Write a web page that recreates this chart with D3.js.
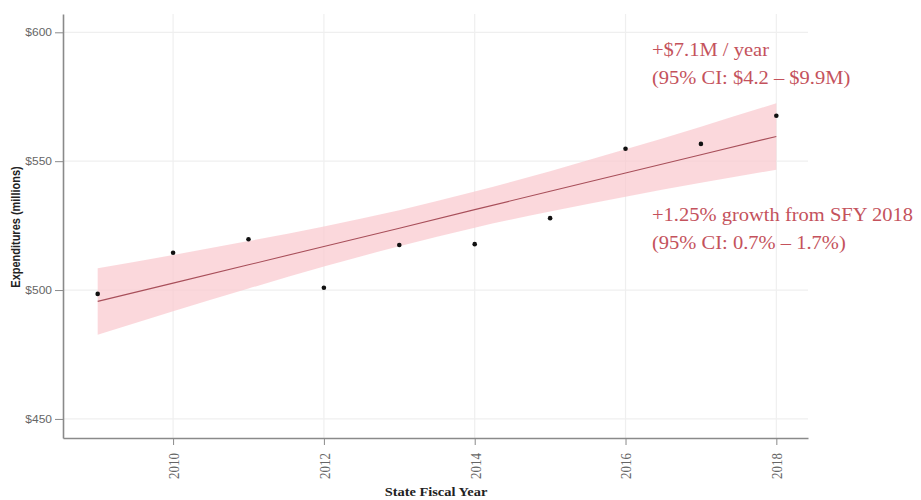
<!DOCTYPE html>
<html>
<head>
<meta charset="utf-8">
<script src="https://cdn.jsdelivr.net/npm/d3@7"></script>
<style>
    body { margin: 0; background: white; }
    svg { display: block; }
</style>
</head>
<body>
<div id="chart"></div>
<script>
// data
const years = [2009, 2010, 2011, 2012, 2013, 2014, 2015, 2016, 2017, 2018];
const spending = [498.5, 514.5, 519.7, 500.9, 517.5, 517.8, 527.9, 554.8, 556.7, 567.6];
const fitLine = [495.6, 502.7, 509.8, 516.9, 524.0, 531.2, 538.3, 545.4, 552.5, 559.6];
const bandLow = [482.7, 491.8, 500.6, 509.1, 517.0, 524.2, 530.5, 536.2, 541.6, 546.7];
const bandHigh = [508.5, 513.6, 519.0, 524.7, 531.0, 538.2, 546.1, 554.6, 563.4, 572.5];
const xTicks = [2010, 2012, 2014, 2016, 2018];
const yTicks = [450, 500, 550, 600];
const noteTop = ["+$7.1M / year", "(95% CI: $4.2 \u2013 $9.9M)"];
const noteBottom = ["+1.25% growth from SFY 2018", "(95% CI: 0.7% \u2013 1.7%)"];

const w = 921, h = 500;
const plotLeft = 63, plotRight = 808, plotTop = 14, plotBottom = 438;
const stretch = 1.2; // the original picture is a bit wider than tall
const red = "#c4525c";
const serif = "'Liberation Serif', 'Times New Roman', serif";
const sans = "'Liberation Sans', Arial, sans-serif";

const svg = d3.select("#chart").append("svg")
    .attr("width", w)
    .attr("height", h);

const xScale = d3.scaleLinear().domain([2008.54, 2018.42]).range([plotLeft, plotRight]);
const yScale = d3.scaleLinear().domain([442.6, 607.1]).range([plotBottom, plotTop]);

// grid
svg.append("g").selectAll("line").data(yTicks).enter().append("line")
    .attr("x1", plotLeft).attr("x2", plotRight)
    .attr("y1", d => yScale(d)).attr("y2", d => yScale(d))
    .attr("stroke", "#efefef").attr("stroke-width", 1.2);
svg.append("g").selectAll("line").data(xTicks).enter().append("line")
    .attr("y1", plotTop).attr("y2", plotBottom)
    .attr("x1", d => xScale(d)).attr("x2", d => xScale(d))
    .attr("stroke", "#efefef").attr("stroke-width", 1.2);

// confidence band
const rows = years.map((y, i) => ({year: y, v: spending[i], fit: fitLine[i], lo: bandLow[i], hi: bandHigh[i]}));

svg.append("path")
    .datum(rows)
    .attr("fill", "#f9c8cd")
    .attr("fill-opacity", 0.7)
    .attr("d", d3.area()
        .x(d => xScale(d.year))
        .y0(d => yScale(d.lo))
        .y1(d => yScale(d.hi))
        .curve(d3.curveMonotoneX));

// fitted line
svg.append("path")
    .datum(rows)
    .attr("fill", "none")
    .attr("stroke", "#a84f5a")
    .attr("stroke-width", 1.1)
    .attr("d", d3.line().x(d => xScale(d.year)).y(d => yScale(d.fit)));

// points
svg.append("g").selectAll("circle").data(rows).enter().append("circle")
    .attr("cx", d => xScale(d.year))
    .attr("cy", d => yScale(d.v))
    .attr("r", 2.3)
    .attr("fill", "#111");

// axes
const yAxis = svg.append("g")
    .attr("transform", `translate(${plotLeft},0)`)
    .call(d3.axisLeft(yScale).tickValues(yTicks).tickSize(8).tickSizeOuter(0).tickFormat(d => "$" + d));
const xAxis = svg.append("g")
    .attr("transform", `translate(0,${plotBottom})`)
    .call(d3.axisBottom(xScale).tickValues(xTicks).tickSize(7).tickSizeOuter(0).tickFormat(d3.format("d")));

[yAxis, xAxis].forEach(a => {
    a.select(".domain").attr("stroke", "#8a8a8a").attr("stroke-width", 1.6);
    a.selectAll(".tick line").attr("stroke", "#8a8a8a");
});
yAxis.selectAll("text")
    .attr("fill", "#666")
    .style("font-family", sans)
    .style("font-size", "10px")
    .attr("x", 0)
    .attr("transform", `translate(-11,0) scale(${stretch},1)`);
xAxis.selectAll("text")
    .attr("fill", "#666")
    .style("font-family", serif)
    .style("font-size", "13px")
    .attr("transform", `scale(${stretch},1) rotate(-90)`)
    .attr("text-anchor", "end")
    .attr("x", -15)
    .attr("y", 0)
    .attr("dy", "0.35em");

// axis titles
svg.append("text")
    .attr("text-anchor", "middle")
    .attr("transform", `translate(20,227) scale(${stretch},1) rotate(-90)`)
    .style("font-family", sans)
    .style("font-weight", "bold")
    .style("font-size", "11px")
    .attr("fill", "#222")
    .text("Expenditures (millions)");

svg.append("text")
    .attr("text-anchor", "middle")
    .attr("transform", `translate(436,496) scale(${stretch},1)`)
    .style("font-family", serif)
    .style("font-weight", "bold")
    .style("font-size", "12px")
    .attr("fill", "#222")
    .text("State Fiscal Year");

// annotations
function note(lines, y0) {
    svg.append("g").selectAll("text").data(lines).enter().append("text")
        .attr("transform", (d, i) => `translate(652,${y0 + i * 28}) scale(1.14,1)`)
        .attr("fill", red)
        .style("font-family", serif)
        .style("font-size", "18px")
        .text(d => d);
}
note(noteTop, 56);
note(noteBottom, 221);
</script>
</body>
</html>
